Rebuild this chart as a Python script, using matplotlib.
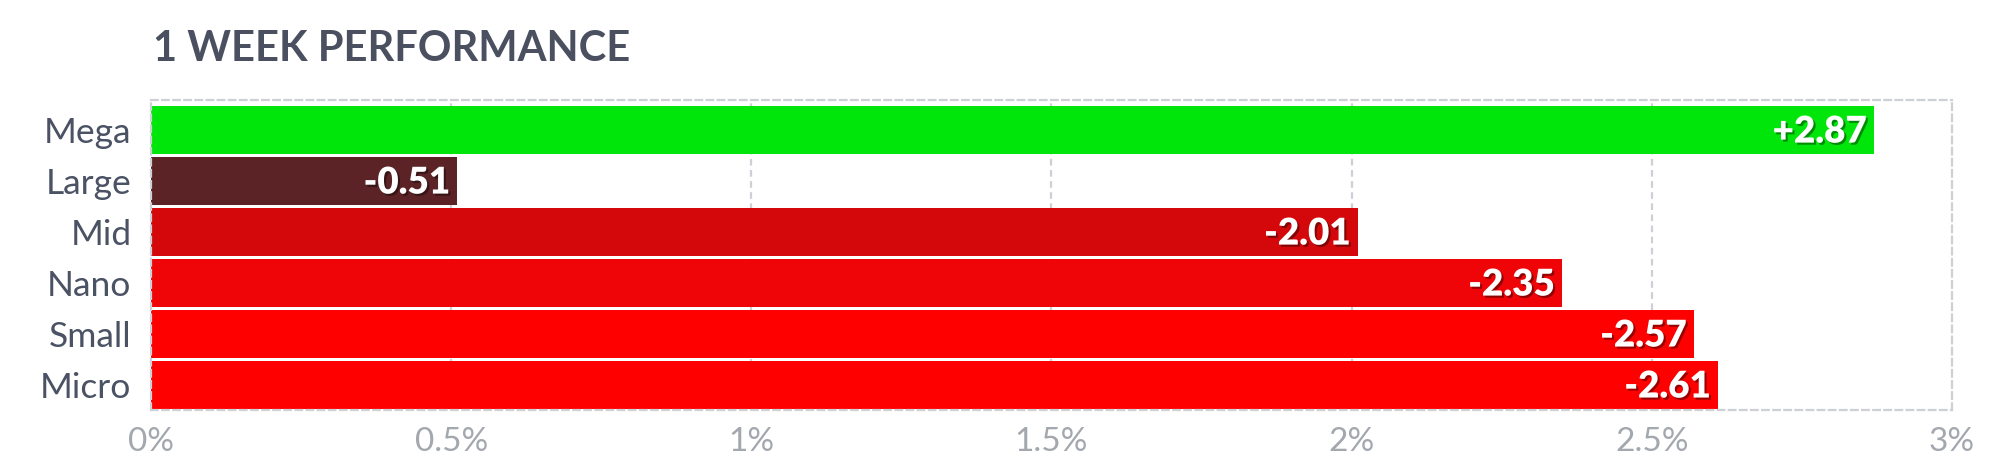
import matplotlib.pyplot as plt
import matplotlib.patheffects as pe
from matplotlib.colors import to_rgb

plt.rcParams['font.family'] = ['Lato', 'DejaVu Sans']

categorias = ['Mega', 'Large', 'Mid', 'Nano', 'Small', 'Micro']
valores = [2.87, -0.51, -2.01, -2.35, -2.57, -2.61]
colores = ['#00e60a', '#5c2326', '#d4080a', '#ef0508', '#ff0000', '#ff0000']
ticks = [0, 0.5, 1, 1.5, 2, 2.5, 3]
tick_labels = ['0%', '0.5%', '1%', '1.5%', '2%', '2.5%', '3%']

W, H = 2006, 476
fig = plt.figure(figsize=(W / 100, H / 100), dpi=100)
ax = fig.add_axes([151 / W, 1 - 410 / H, (1952 - 151) / W, 310 / H])

pos = list(range(len(categorias)))
largos = [abs(v) for v in valores]
ax.barh(pos, largos, height=0.94, color=colores, zorder=2)

for y, v, c in zip(pos, valores, colores):
    sombra = tuple(x * 0.6 for x in to_rgb(c))
    txt = f"{v:+.2f}"
    ax.text(abs(v) - 0.012, y + 0.03, txt, ha='right', va='center',
            color='white', fontsize=26.5, fontweight='heavy', zorder=3,
            path_effects=[pe.withSimplePatchShadow(offset=(1.5, -1.5),
                                                   shadow_rgbFace=sombra, alpha=1)])

ax.set_xlim(0, 3)
ax.set_ylim(5.49, -0.59)
ax.set_xticks(ticks)
ax.set_xticklabels(tick_labels)
ax.set_yticks(pos)
ax.set_yticklabels(categorias)
ax.tick_params(axis='x', length=0, pad=12, labelsize=24, labelcolor='#a3a7ae')
ax.tick_params(axis='y', length=0, pad=14, labelsize=25.5, labelcolor='#4a5264')

for t in ticks[1:-1]:
    ax.axvline(t, color='#cdd0d6', lw=1.6, ls=(0, (3, 2)), zorder=1)
for s in ax.spines.values():
    s.set_color('#cdd0d6')
    s.set_linewidth(1.6)
    s.set_linestyle((0, (3, 2)))

fig.text(153 / W, 1 - 61 / H, '1 WEEK PERFORMANCE', fontsize=30, fontweight='bold',
         color='#4a5060', ha='left', va='baseline')

fig.savefig('out.png', dpi=100)
